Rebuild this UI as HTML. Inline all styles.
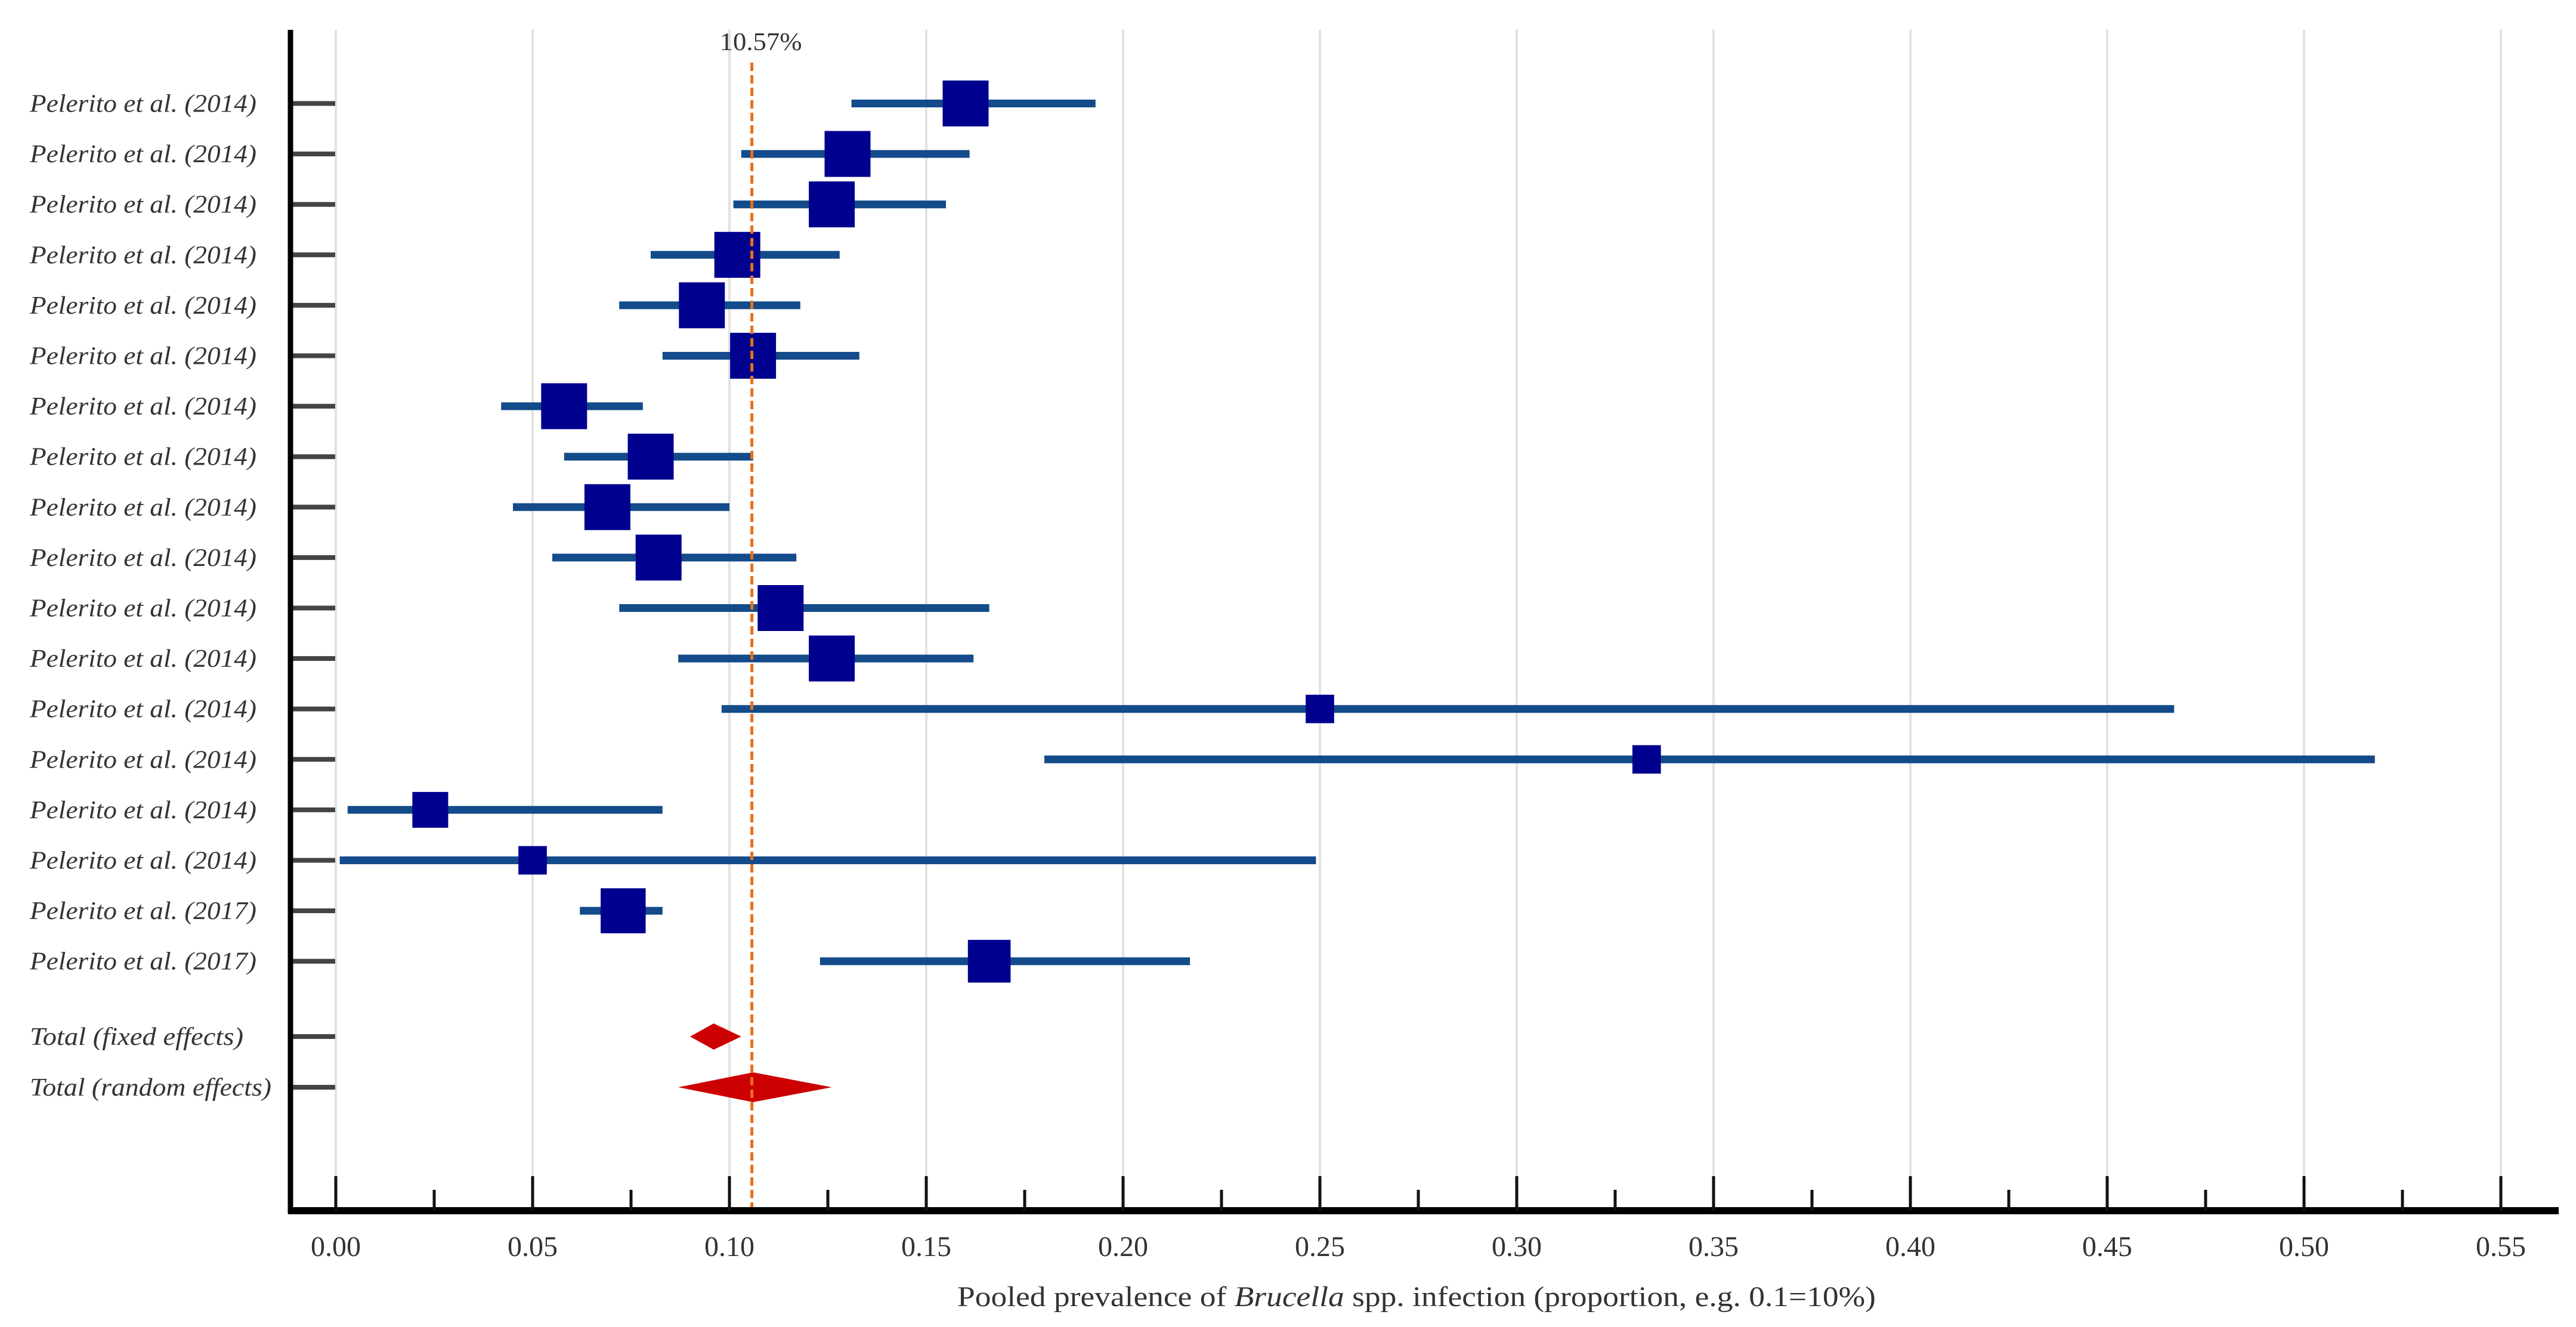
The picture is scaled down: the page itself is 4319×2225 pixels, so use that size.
<!DOCTYPE html>
<html><head><meta charset="utf-8"><style>
html,body{margin:0;padding:0;background:#fff;}
svg{display:block;}
</style></head><body>
<svg id="chart" width="4319" height="2225" viewBox="0 0 4319 2225" xmlns="http://www.w3.org/2000/svg"></svg>
<script>
const studies = ["Pelerito et al. (2014)","Pelerito et al. (2014)","Pelerito et al. (2014)","Pelerito et al. (2014)","Pelerito et al. (2014)","Pelerito et al. (2014)","Pelerito et al. (2014)","Pelerito et al. (2014)","Pelerito et al. (2014)","Pelerito et al. (2014)","Pelerito et al. (2014)","Pelerito et al. (2014)","Pelerito et al. (2014)","Pelerito et al. (2014)","Pelerito et al. (2014)","Pelerito et al. (2014)","Pelerito et al. (2017)","Pelerito et al. (2017)"];
const estimates = [0.160,0.130,0.126,0.102,0.093,0.106,0.058,0.080,0.069,0.082,0.113,0.126,0.250,0.333,0.024,0.050,0.073,0.166];
const lowerCI = [0.131,0.103,0.101,0.080,0.072,0.083,0.042,0.058,0.045,0.055,0.072,0.087,0.098,0.180,0.003,0.001,0.062,0.123];
const upperCI = [0.193,0.161,0.155,0.128,0.118,0.133,0.078,0.106,0.100,0.117,0.166,0.162,0.467,0.518,0.083,0.249,0.083,0.217];
const weights = [1,1,1,1,1,1,1,1,1,1,1,1,0.62,0.62,0.78,0.62,0.98,0.93];
const totalLabels = ["Total (fixed effects)","Total (random effects)"];
const totalEst = [0.096,0.106];
const totalLo = [0.090,0.087];
const totalHi = [0.103,0.126];
const pooled = 0.1057;
const tickValues = [0,0.05,0.10,0.15,0.20,0.25,0.30,0.35,0.40,0.45,0.50,0.55];
const tickLabels = ["0.00","0.05","0.10","0.15","0.20","0.25","0.30","0.35","0.40","0.45","0.50","0.55"];

const svg = document.getElementById('chart');
const NS = 'http://www.w3.org/2000/svg';
const X0 = 563, PXU = 6600;
const xs = v => X0 + v * PXU;
const rowY = i => 173.5 + i * 84.6;
const totY = i => 1738 + i * 85;
const AXL = 487, AXB = 2030, TOP = 50;
function mk(tag, attrs, parent){const e=document.createElementNS(NS,tag);for(const k in attrs)e.setAttribute(k,attrs[k]);(parent||svg).appendChild(e);return e;}
const serif = '"Liberation Serif", serif';

tickValues.forEach((v,i)=>{
  const g = mk('line',{x1:xs(v),x2:xs(v),y1:TOP,y2:AXB,stroke:'#e2e2e2','stroke-width':4});
  
  
});

studies.forEach((s,i)=>{
  const y=rowY(i);
  const l=mk('line',{x1:xs(lowerCI[i]),x2:xs(upperCI[i]),y1:y,y2:y,stroke:'#144b8a','stroke-width':13});
  
  
  const sz=77*weights[i];
  const r=mk('rect',{x:xs(estimates[i])-sz/2,y:y-sz/2,width:sz,height:sz,fill:'#00008f'});
  
  
  const t=mk('line',{x1:AXL,x2:AXL+75,y1:y,y2:y,stroke:'#444','stroke-width':8});
  
  
  const tx=mk('text',{x:50,y:y+14,'font-family':serif,'font-style':'italic','font-size':42,fill:'#333',textLength:380,lengthAdjust:'spacingAndGlyphs'});
  tx.textContent=s;
  
  
});

const dh=[22,25];
const tl=[358,405];
totalLabels.forEach((s,i)=>{
  const y=totY(i);
  const d=mk('polygon',{points:`${xs(totalLo[i])},${y} ${xs(totalEst[i])},${y-dh[i]} ${xs(totalHi[i])},${y} ${xs(totalEst[i])},${y+dh[i]}`,fill:'#cc0000'});
  
  
  const t=mk('line',{x1:AXL,x2:AXL+75,y1:y,y2:y,stroke:'#444','stroke-width':8});
  
  
  const tx=mk('text',{x:50,y:y+14,'font-family':serif,'font-style':'italic','font-size':42,fill:'#333',textLength:tl[i],lengthAdjust:'spacingAndGlyphs'});
  tx.textContent=s;
  
  
});

const pl=mk('line',{x1:xs(pooled),x2:xs(pooled),y1:105,y2:AXB,stroke:'#e8701a','stroke-width':5,'stroke-dasharray':'14 7'});


const pt=mk('text',{x:xs(pooled)+15,y:84,'text-anchor':'middle','font-family':serif,'font-size':42,fill:'#333',textLength:138,lengthAdjust:'spacingAndGlyphs'});
pt.textContent=(pooled*100).toFixed(2)+'%';



const ya=mk('line',{x1:AXL,x2:AXL,y1:TOP,y2:AXB+5,stroke:'#000','stroke-width':9});


const xa=mk('line',{x1:AXL-4,x2:4290,y1:AXB,y2:AXB,stroke:'#000','stroke-width':12});


tickValues.forEach((v,i)=>{
  const t=mk('line',{x1:xs(v),x2:xs(v),y1:AXB-58,y2:AXB,stroke:'#111','stroke-width':5});
  
  
  if(i<tickValues.length-1){
    const m=mk('line',{x1:xs(v+0.025),x2:xs(v+0.025),y1:AXB-35,y2:AXB,stroke:'#111','stroke-width':5});
    
    
  }
  const tx=mk('text',{x:xs(v),y:2106,'text-anchor':'middle','font-family':serif,'font-size':48,fill:'#333',textLength:84,lengthAdjust:'spacingAndGlyphs'});
  tx.textContent=tickLabels[i];
  
  
});
const title=mk('text',{x:1605,y:2190,'font-family':serif,'font-size':48,fill:'#333',textLength:1540,lengthAdjust:'spacingAndGlyphs'});


title.innerHTML='Pooled prevalence of <tspan font-style="italic">Brucella</tspan> spp. infection (proportion, e.g. 0.1=10%)';
</script>
</body></html>
